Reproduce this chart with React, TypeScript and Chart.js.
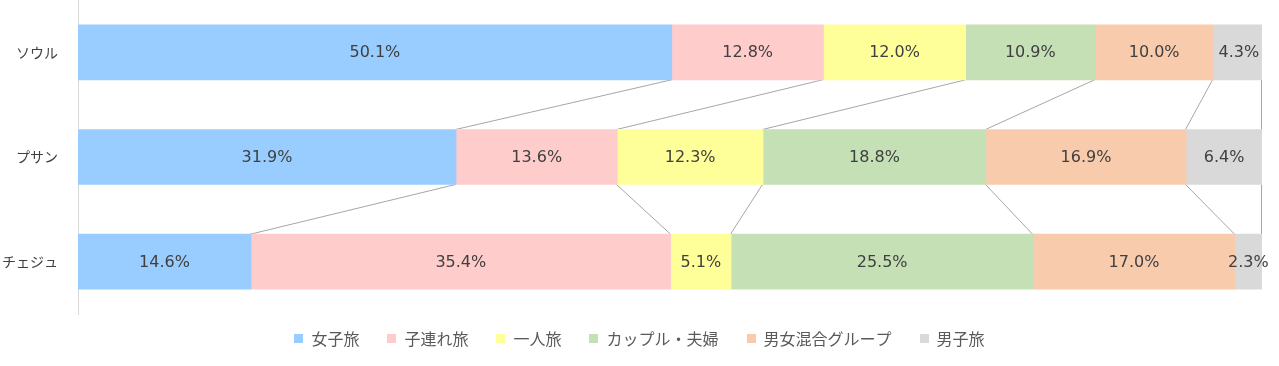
import React, { useEffect, useRef } from "react";
import { Chart, registerables } from "chart.js";

Chart.register(...registerables);

const categories = ["ソウル", "プサン", "チェジュ"];
const seriesNames = ["女子旅", "子連れ旅", "一人旅", "カップル・夫婦", "男女混合グループ", "男子旅"];
const seriesColors = ["#99CCFF", "#FFCCCC", "#FFFF99", "#C5E0B4", "#F8CBAD", "#D9D9D9"];
const womenTrip = [50.1, 31.9, 14.6];
const familyTrip = [12.8, 13.6, 35.4];
const soloTrip = [12.0, 12.3, 5.1];
const coupleTrip = [10.9, 18.8, 25.5];
const mixedGroup = [10.0, 16.9, 17.0];
const menTrip = [4.3, 6.4, 2.3];
const seriesValues = [womenTrip, familyTrip, soloTrip, coupleTrip, mixedGroup, menTrip];

const LABEL_FONT = "16px 'DejaVu Sans', 'Noto Sans CJK JP', sans-serif";
const LEGEND_FONT = "16px 'Noto Sans CJK JP', sans-serif";

const overlayPlugin = {
  id: "overlay",
  beforeDatasetsDraw(chart: any) {
    // connector lines between bars
    const ctx = chart.ctx;
    const area = chart.chartArea;
    const n = chart.data.datasets.length;
    ctx.save();
    ctx.strokeStyle = "#A6A6A6";
    ctx.lineWidth = 1;
    for (let d = 0; d < n; d++) {
      const meta = chart.getDatasetMeta(d);
      for (let c = 0; c < meta.data.length - 1; c++) {
        const a = meta.data[c] as any;
        const b = meta.data[c + 1] as any;
        const ax = Math.min(a.x, area.right);
        const bx = Math.min(b.x, area.right);
        ctx.beginPath();
        ctx.moveTo(Math.round(ax) - 0.5, a.y + a.height / 2);
        ctx.lineTo(Math.round(bx) - 0.5, b.y - b.height / 2);
        ctx.stroke();
      }
    }
    ctx.restore();
  },
  afterDatasetsDraw(chart: any) {
    const ctx = chart.ctx;
    ctx.save();
    ctx.font = LABEL_FONT;
    ctx.fillStyle = "#404040";
    ctx.textAlign = "center";
    ctx.textBaseline = "middle";
    chart.data.datasets.forEach((ds: any, d: number) => {
      const meta = chart.getDatasetMeta(d);
      meta.data.forEach((el: any, i: number) => {
        const v = ds.data[i];
        const cx = (el.x + el.base) / 2;
        ctx.fillText(v.toFixed(1) + "%", cx, el.y + 1);
      });
    });
    ctx.restore();
  },
  afterDraw(chart: any) {
    // legend
    const ctx = chart.ctx;
    ctx.save();
    ctx.font = LEGEND_FONT;
    const box = 9;
    const boxGap = 8;
    const gap = 28;
    const widths = seriesNames.map((s) => box + boxGap + ctx.measureText(s).width);
    const total = widths.reduce((a, b) => a + b, 0) + gap * (widths.length - 1);
    let x = chart.width / 2 - total / 2;
    const cy = 339;
    ctx.textBaseline = "middle";
    ctx.textAlign = "left";
    seriesNames.forEach((s, i) => {
      ctx.fillStyle = seriesColors[i];
      ctx.fillRect(Math.round(x), cy - 5, box, box);
      ctx.fillStyle = "#595959";
      ctx.fillText(s, x + box + boxGap, cy);
      x += widths[i] + gap;
    });
    ctx.restore();
  },
};

export default function App() {
  const ref = useRef<HTMLCanvasElement | null>(null);
  useEffect(() => {
    if (!ref.current) return;
    const chart = new Chart(ref.current, {
      type: "bar",
      data: {
        labels: categories,
        datasets: seriesNames.map((name, i) => ({
          label: name,
          data: seriesValues[i],
          backgroundColor: seriesColors[i],
          borderWidth: 0,
          barThickness: 55,
        })),
      },
      options: {
        indexAxis: "y",
        animation: false,
        responsive: false,
        devicePixelRatio: 1,
        layout: { padding: { top: 0, right: 17, bottom: 52, left: 0 } },
        plugins: {
          legend: { display: false },
          tooltip: { enabled: false },
        },
        scales: {
          x: { stacked: true, min: 0, max: 99.9, display: false },
          y: {
            stacked: true,
            grid: { display: false, drawTicks: false },
            border: { display: true, color: "#D9D9D9", width: 1 },
            ticks: {
              padding: 20,
              color: "#404040",
              font: { family: "'Noto Sans CJK JP', sans-serif", size: 14 },
            },
            afterFit(scale: any) {
              scale.width = 78;
              scale.paddingTop = 0;
              scale.paddingBottom = 0;
            },
          },
        },
      } as any,
      plugins: [overlayPlugin],
    });
    return () => chart.destroy();
  }, []);
  return (
    <div style={{ position: "absolute", left: 0, top: 0, width: 1279, height: 366, background: "#fff" }}>
      <canvas ref={ref} width={1279} height={366} />
    </div>
  );
}
